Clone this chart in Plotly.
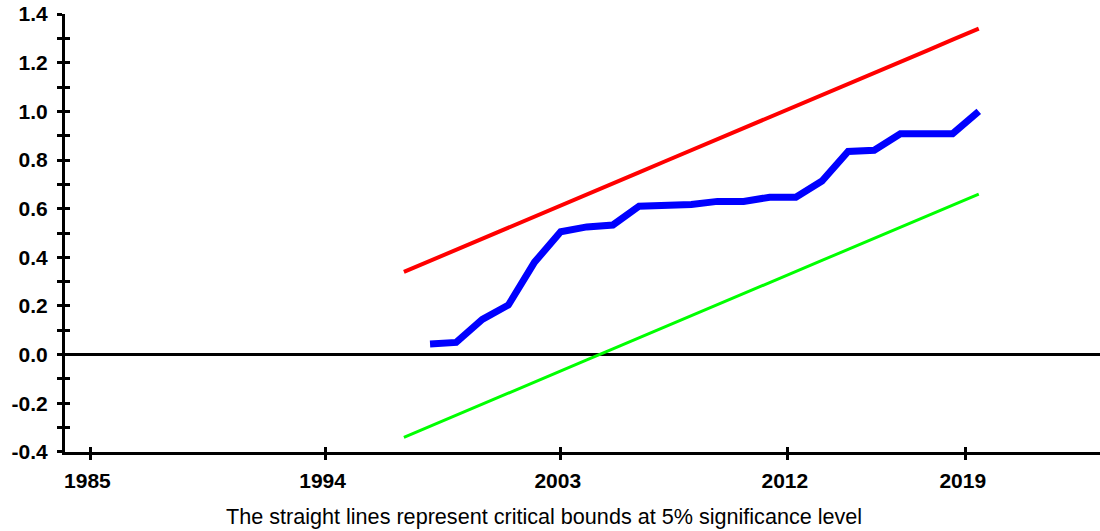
import plotly.graph_objects as go

years_upper = list(range(1997, 2020))
upper_bound = [0.340, 0.385, 0.431, 0.476, 0.522, 0.567, 0.613, 0.658, 0.704, 0.749,
               0.795, 0.840, 0.885, 0.931, 0.976, 1.022, 1.067, 1.113, 1.158, 1.204,
               1.249, 1.295, 1.340]
lower_bound = [-0.340, -0.295, -0.249, -0.204, -0.158, -0.113, -0.067, -0.022, 0.024, 0.069,
               0.115, 0.160, 0.205, 0.251, 0.296, 0.342, 0.387, 0.433, 0.478, 0.524,
               0.569, 0.615, 0.660]
years_stat = list(range(1998, 2020))
cusum_sq = [0.044, 0.050, 0.145, 0.204, 0.380, 0.505, 0.525, 0.533, 0.610, 0.615,
            0.617, 0.630, 0.630, 0.647, 0.647, 0.714, 0.835, 0.840, 0.908, 0.908,
            0.908, 1.000]

x_tick_vals = [1985, 1994, 2003, 2011.69, 2018.5]
x_tick_text = ["1985", "1994", "2003", "2012", "2019"]
y_tick_vals = [-0.4, -0.3, -0.2, -0.1, 0.0, 0.1, 0.2, 0.3, 0.4, 0.5, 0.6, 0.7,
               0.8, 0.9, 1.0, 1.1, 1.2, 1.3, 1.4]
y_tick_text = ["-0.4", "", "-0.2", "", "0.0", "", "0.2", "", "0.4", "", "0.6", "",
               "0.8", "", "1.0", "", "1.2", "", "1.4"]
caption = "The straight lines represent critical bounds at 5% significance level"

x_range = [1984.03, 2023.64]
y_range = [-0.4005, 1.4005]

fig = go.Figure()
fig.add_trace(go.Scatter(x=years_upper, y=upper_bound, mode="lines",
                         line=dict(color="#FF0000", width=4), showlegend=False))
fig.add_trace(go.Scatter(x=years_upper, y=lower_bound, mode="lines",
                         line=dict(color="#00FF00", width=3), showlegend=False))
fig.add_trace(go.Scatter(x=years_stat, y=cusum_sq, mode="lines",
                         line=dict(color="#0000FF", width=7), showlegend=False))

tick_font = dict(family="Liberation Sans, Arial, sans-serif", size=21, color="black")

fig.update_layout(
    width=1100, height=531,
    margin=dict(l=65, r=0, t=14, b=79),
    paper_bgcolor="white", plot_bgcolor="white",
    font=dict(family="Liberation Sans, Arial, sans-serif"),
    xaxis=dict(range=x_range, tickmode="array", tickvals=x_tick_vals,
               ticktext=[f"<b>{t}</b>&nbsp;" for t in x_tick_text],
               ticks="outside", ticklen=5, tickwidth=3, tickcolor="black",
               showline=True, linecolor="black", linewidth=3,
               showgrid=False, zeroline=False, tickfont=tick_font,
               ticklabelstandoff=3, ticklabeloverflow="allow"),
    yaxis=dict(range=y_range, tickmode="array", tickvals=y_tick_vals,
               ticktext=[f"<b>{t}</b>" if t else "" for t in y_tick_text],
               ticks="outside", ticklen=5, tickwidth=3, tickcolor="black",
               showline=True, linecolor="black", linewidth=3,
               showgrid=False, zeroline=True, zerolinecolor="black",
               zerolinewidth=3, tickfont=tick_font, ticklabelstandoff=5,
               ticklabeloverflow="allow"),
    xaxis2=dict(range=x_range, overlaying="x", anchor="y", side="bottom",
                tickmode="array", tickvals=x_tick_vals, ticktext=["" for _ in x_tick_vals],
                ticks="inside", ticklen=5, tickwidth=3, tickcolor="black",
                showline=False, showgrid=False, zeroline=False),
    yaxis2=dict(range=y_range, overlaying="y", anchor="x", side="left",
                tickmode="array", tickvals=y_tick_vals, ticktext=["" for _ in y_tick_vals],
                ticks="inside", ticklen=5, tickwidth=3, tickcolor="black",
                showline=False, showgrid=False, zeroline=False),
    annotations=[dict(text=caption, xref="paper", yref="paper", x=0.4628, y=-0.1808,
                      xanchor="center", yanchor="bottom", showarrow=False,
                      font=dict(family="Liberation Sans, Arial, sans-serif",
                                size=21.6, color="black"))],
)
fig.add_trace(go.Scatter(x=[x_range[0]], y=[y_range[0]], xaxis="x2", yaxis="y2",
                         mode="markers", marker=dict(opacity=0), showlegend=False,
                         hoverinfo="skip"))

fig.write_html("out.html", config={"displayModeBar": False},
               post_script="document.body.style.margin='0';document.body.style.overflow='hidden';")
